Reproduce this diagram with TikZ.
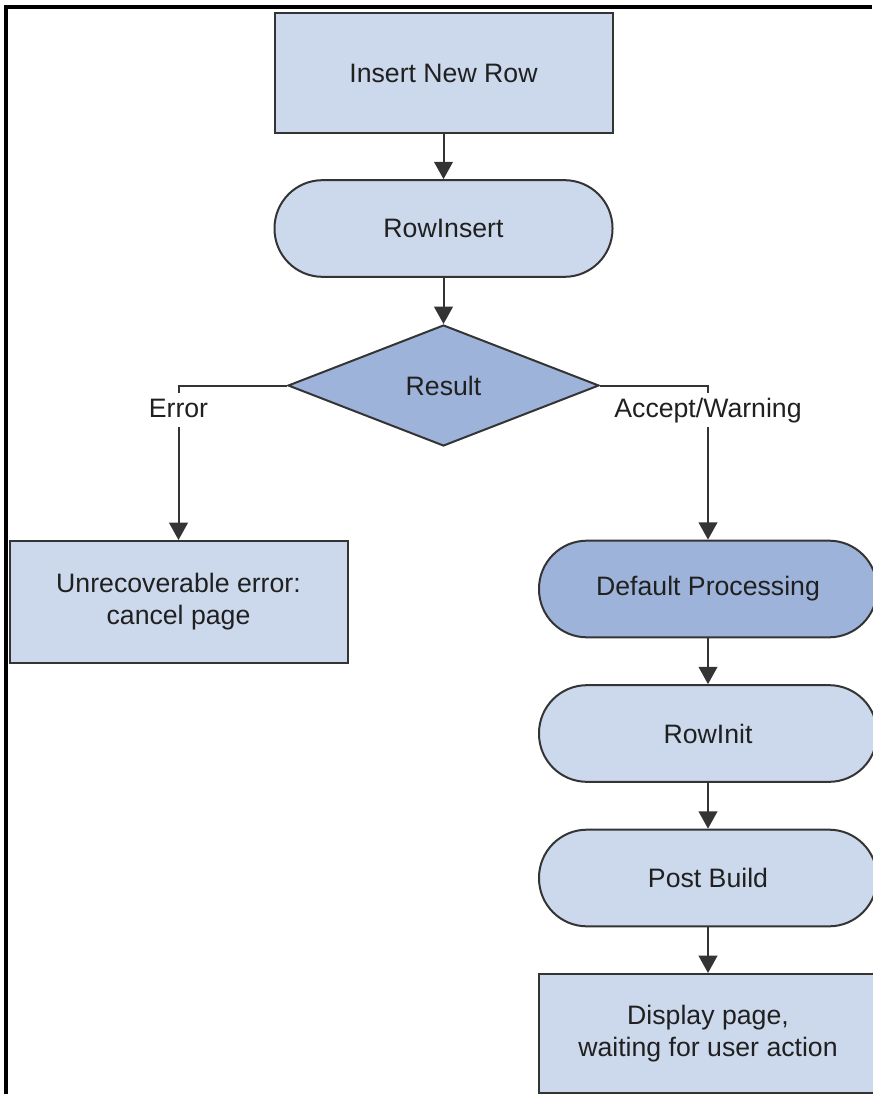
\documentclass[tikz,border=0pt]{standalone}
\usepackage{fontspec}
\setmainfont{Liberation Sans}
\usetikzlibrary{shapes.geometric,arrows.meta}

\definecolor{paleblue}{RGB}{204,217,236}
\definecolor{midblue}{RGB}{158,179,218}
\definecolor{edgegray}{RGB}{52,52,52}
\definecolor{inkgray}{RGB}{32,32,32}

\tikzset{every picture/.style={line width=1.5pt}}
\tikzset{
  stepbox/.style={draw=edgegray, fill=paleblue, text=inkgray, inner sep=0pt,
    minimum width=253.5pt, align=center, font=\fontsize{20}{24}\selectfont},
  squarebox/.style={stepbox, minimum height=90pt},
  pillbox/.style={stepbox, rounded corners=36pt, minimum height=72.5pt},
  decision/.style={draw=edgegray, fill=midblue, text=inkgray, diamond, aspect=2.5,
    inner sep=0pt, minimum width=233.25pt, minimum height=90.75pt,
    font=\fontsize{20}{24}\selectfont},
  flowarrow/.style={draw=edgegray, -{Triangle[width=14pt,length=13pt]}},
  branchlabel/.style={fill=white, text=inkgray, inner sep=3pt, text height=15pt,
    text depth=4.5pt, font=\fontsize{20}{24}\selectfont}
}

\begin{document}
\begin{tikzpicture}[x=0.75pt,y=0.75pt,yscale=-1,xscale=1]
\useasboundingbox (0,0) rectangle (872,1094);

%Frame
\draw [line width=2.5pt, black] (6,1094) -- (6,7) -- (872,7) ;

%Shape: Rectangle
\node [squarebox] (newrow) at (443.5,73) {Insert New Row};
%Shape: Rounded Rectangle
\node [pillbox] (rowinsert) at (443.5,228.5) {RowInsert};
%Shape: Diamond
\node [decision] (result) at (443.5,385.5) {Result};
%Shape: Rectangle
\node [squarebox, minimum height=91.5pt] (cancel) at (178.5,602) {Unrecoverable error:\\cancel page};
%Shape: Rounded Rectangle
\node [pillbox, fill=midblue] (default) at (708,589) {Default Processing};
%Shape: Rounded Rectangle
\node [pillbox] (rowinit) at (708,733.5) {RowInit};
%Shape: Rounded Rectangle
\node [pillbox] (postbuild) at (708,878) {Post Build};
%Shape: Rectangle
\node [squarebox, minimum height=89.25pt] (display) at (708,1033.5) {Display page,\\waiting for user action};

%Straight Lines
\draw [flowarrow] (newrow) -- (rowinsert) ;
\draw [flowarrow] (rowinsert) -- (result) ;
\draw [flowarrow] (result.west) -| node [branchlabel, pos=0.58] {Error} (cancel.north) ;
\draw [flowarrow] (result.east) -| node [branchlabel, pos=0.58] {Accept/Warning} (default.north) ;
\draw [flowarrow] (default) -- (rowinit) ;
\draw [flowarrow] (rowinit) -- (postbuild) ;
\draw [flowarrow] (postbuild) -- (display) ;

\end{tikzpicture}
\end{document}
